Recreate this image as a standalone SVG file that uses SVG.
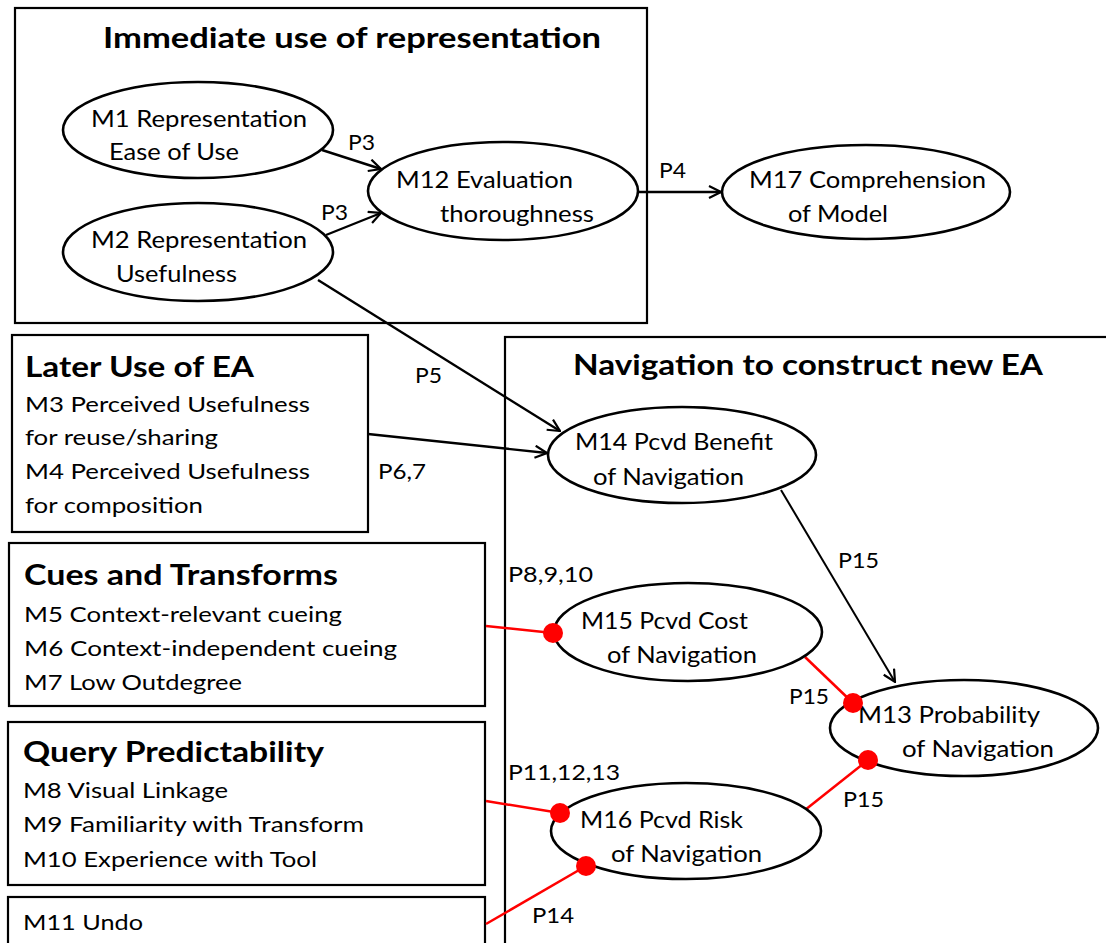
<svg xmlns="http://www.w3.org/2000/svg" width="1106" height="943" viewBox="0 0 1106 943">
<defs>
<style>
text{font-family:Lato,"Open Sans","Liberation Sans",sans-serif;fill:#000}
.t{font-size:23px}
.h{font-size:28px;font-weight:bold}
.l{font-size:22px}
.box{fill:#fff;stroke:#000;stroke-width:2.2}
.el{fill:#fff;stroke:#000;stroke-width:2.6}
.blk{stroke:#000;stroke-width:2.4;fill:none}
.thin{stroke:#000;stroke-width:2;fill:none}
.red{stroke:#ff0000;stroke-width:2.5;fill:none}
.dot{fill:#ff0000}
</style>
<marker id="arr" viewBox="0 0 14 14" refX="13" refY="7" markerWidth="14" markerHeight="14" markerUnits="userSpaceOnUse" orient="auto">
<path d="M1,1 L13,7 L1,13" fill="none" stroke="#000" stroke-width="2.2"/>
</marker>
</defs>
<rect width="1106" height="943" fill="#fff"/>

<g id="group-immediate">
<rect class="box" x="15" y="8" width="632" height="315"/>
<text class="h" x="103" y="48" textLength="498" lengthAdjust="spacingAndGlyphs">Immediate use of representation</text>
</g>
<g id="group-navigation">
<rect class="box" x="505" y="337" width="610" height="620"/>
<text class="h" x="573" y="375" textLength="470" lengthAdjust="spacingAndGlyphs">Navigation to construct new EA</text>
</g>
<g id="box-later">
<rect class="box" x="12" y="335" width="356" height="197"/>
<text class="h" x="25" y="377" textLength="229" lengthAdjust="spacingAndGlyphs">Later Use of EA</text>
<text class="l" x="25" y="412" textLength="285" lengthAdjust="spacingAndGlyphs">M3 Perceived Usefulness</text>
<text class="l" x="25" y="445" textLength="193" lengthAdjust="spacingAndGlyphs">for reuse/sharing</text>
<text class="l" x="25" y="479" textLength="285" lengthAdjust="spacingAndGlyphs">M4 Perceived Usefulness</text>
<text class="l" x="25" y="513" textLength="178" lengthAdjust="spacingAndGlyphs">for composition</text>
</g>
<g id="box-cues">
<rect class="box" x="9" y="543" width="476" height="163"/>
<text class="h" x="24" y="585" textLength="314" lengthAdjust="spacingAndGlyphs">Cues and Transforms</text>
<text class="l" x="24" y="622" textLength="318" lengthAdjust="spacingAndGlyphs">M5 Context-relevant cueing</text>
<text class="l" x="24" y="656" textLength="373" lengthAdjust="spacingAndGlyphs">M6 Context-independent cueing</text>
<text class="l" x="24" y="690" textLength="218" lengthAdjust="spacingAndGlyphs">M7 Low Outdegree</text>
</g>
<g id="box-query">
<rect class="box" x="8" y="722" width="477" height="163"/>
<text class="h" x="23" y="762" textLength="301" lengthAdjust="spacingAndGlyphs">Query Predictability</text>
<text class="l" x="23" y="798" textLength="205" lengthAdjust="spacingAndGlyphs">M8 Visual Linkage</text>
<text class="l" x="23" y="832" textLength="341" lengthAdjust="spacingAndGlyphs">M9 Familiarity with Transform</text>
<text class="l" x="23" y="867" textLength="294" lengthAdjust="spacingAndGlyphs">M10 Experience with Tool</text>
</g>
<g id="box-undo">
<rect class="box" x="8" y="897" width="477" height="60"/>
<text class="l" x="23" y="930" textLength="120" lengthAdjust="spacingAndGlyphs">M11 Undo</text>
</g>

<g id="connectors">
<line class="blk" x1="322" y1="150" x2="381" y2="169" marker-end="url(#arr)"/>
<line class="blk" x1="326" y1="235" x2="381" y2="213" marker-end="url(#arr)"/>
<line class="blk" x1="638" y1="192" x2="721" y2="192" marker-end="url(#arr)"/>
<line class="blk" x1="318" y1="280" x2="560" y2="431" marker-end="url(#arr)"/>
<line class="blk" x1="368" y1="434" x2="547" y2="453" marker-end="url(#arr)"/>
<line class="thin" x1="781" y1="490" x2="895" y2="682" marker-end="url(#arr)"/>
<line class="red" x1="486" y1="626" x2="553" y2="633"/>
<line class="red" x1="805" y1="657" x2="853" y2="703"/>
<line class="red" x1="805" y1="810" x2="868" y2="760"/>
<line class="red" x1="486" y1="801" x2="560" y2="813"/>
<line class="red" x1="486" y1="924" x2="586" y2="866"/>
</g>

<g id="node-m1">
<ellipse class="el" cx="198" cy="130" rx="135" ry="48"/>
<text class="t" x="91" y="127" textLength="216" lengthAdjust="spacingAndGlyphs">M1 Representation</text>
<text class="t" x="109" y="160" textLength="130" lengthAdjust="spacingAndGlyphs">Ease of Use</text>
</g>
<g id="node-m2">
<ellipse class="el" cx="198" cy="252" rx="135" ry="49"/>
<text class="t" x="91" y="248" textLength="216" lengthAdjust="spacingAndGlyphs">M2 Representation</text>
<text class="t" x="116" y="282" textLength="121" lengthAdjust="spacingAndGlyphs">Usefulness</text>
</g>
<g id="node-m12">
<ellipse class="el" cx="503" cy="191" rx="135" ry="49"/>
<text class="t" x="396" y="188" textLength="177" lengthAdjust="spacingAndGlyphs">M12 Evaluation</text>
<text class="t" x="440" y="222" textLength="154" lengthAdjust="spacingAndGlyphs">thoroughness</text>
</g>
<g id="node-m17">
<ellipse class="el" cx="866" cy="192" rx="144" ry="47"/>
<text class="t" x="749" y="188" textLength="237" lengthAdjust="spacingAndGlyphs">M17 Comprehension</text>
<text class="t" x="788" y="222" textLength="100" lengthAdjust="spacingAndGlyphs">of Model</text>
</g>
<g id="node-m14">
<ellipse class="el" cx="682" cy="455" rx="134" ry="48"/>
<text class="t" x="575" y="450" textLength="198" lengthAdjust="spacingAndGlyphs">M14 Pcvd Benefit</text>
<text class="t" x="593" y="485" textLength="151" lengthAdjust="spacingAndGlyphs">of Navigation</text>
</g>
<g id="node-m15">
<ellipse class="el" cx="688" cy="632" rx="134" ry="49"/>
<text class="t" x="581" y="629" textLength="167" lengthAdjust="spacingAndGlyphs">M15 Pcvd Cost</text>
<text class="t" x="607" y="663" textLength="150" lengthAdjust="spacingAndGlyphs">of Navigation</text>
</g>
<g id="node-m13">
<ellipse class="el" cx="964" cy="728" rx="134" ry="48"/>
<text class="t" x="858" y="723" textLength="182" lengthAdjust="spacingAndGlyphs">M13 Probability</text>
<text class="t" x="902" y="757" textLength="152" lengthAdjust="spacingAndGlyphs">of Navigation</text>
</g>
<g id="node-m16">
<ellipse class="el" cx="686" cy="831" rx="135" ry="48"/>
<text class="t" x="580" y="828" textLength="163" lengthAdjust="spacingAndGlyphs">M16 Pcvd Risk</text>
<text class="t" x="611" y="862" textLength="151" lengthAdjust="spacingAndGlyphs">of Navigation</text>
</g>

<g id="dots">
<circle class="dot" cx="553" cy="633" r="10"/>
<circle class="dot" cx="853" cy="703" r="10"/>
<circle class="dot" cx="868" cy="760" r="10"/>
<circle class="dot" cx="560" cy="813" r="10"/>
<circle class="dot" cx="586" cy="866" r="10"/>
</g>

<g id="labels">
<text class="l" x="348" y="150" textLength="27" lengthAdjust="spacingAndGlyphs">P3</text>
<text class="l" x="321" y="220" textLength="27" lengthAdjust="spacingAndGlyphs">P3</text>
<text class="l" x="659" y="178" textLength="27" lengthAdjust="spacingAndGlyphs">P4</text>
<text class="l" x="415" y="383" textLength="27" lengthAdjust="spacingAndGlyphs">P5</text>
<text class="l" x="378" y="479" textLength="48" lengthAdjust="spacingAndGlyphs">P6,7</text>
<text class="l" x="838" y="568" textLength="41" lengthAdjust="spacingAndGlyphs">P15</text>
<text class="l" x="508" y="582" textLength="85" lengthAdjust="spacingAndGlyphs">P8,9,10</text>
<text class="l" x="789" y="704" textLength="40" lengthAdjust="spacingAndGlyphs">P15</text>
<text class="l" x="843" y="807" textLength="41" lengthAdjust="spacingAndGlyphs">P15</text>
<text class="l" x="508" y="780" textLength="112" lengthAdjust="spacingAndGlyphs">P11,12,13</text>
<text class="l" x="532" y="923" textLength="42" lengthAdjust="spacingAndGlyphs">P14</text>
</g>
</svg>
